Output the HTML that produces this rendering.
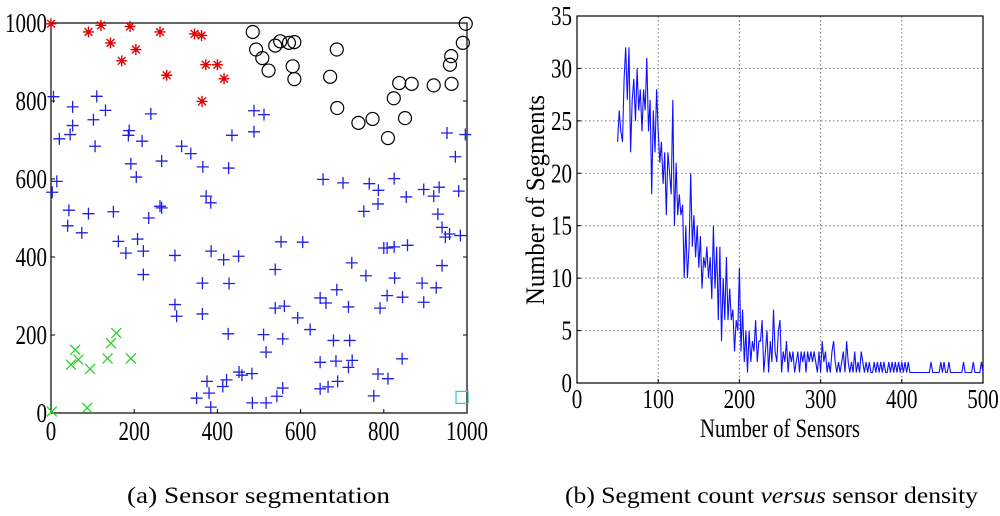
<!DOCTYPE html>
<html><head><meta charset="utf-8"><style>
html,body{margin:0;padding:0;background:#fff;}
svg{display:block;font-family:"Liberation Serif",serif;}
</style></head><body>
<svg id="s" width="1000" height="516" viewBox="0 0 1000 516">
<rect x="0" y="0" width="1000" height="516" fill="#fff"/>
<g id="left"></g>
<g id="right"></g>
<text x="127" y="503" font-size="23" textLength="263" lengthAdjust="spacingAndGlyphs">(a)  Sensor segmentation</text>
<text x="565" y="503" font-size="23" textLength="413" lengthAdjust="spacingAndGlyphs">(b)  Segment count <tspan font-style="italic">versus</tspan> sensor density</text>
</svg>
<script>
const starPts=[[90,977],[120,994],[190,991],[143,949],[170,903],[204,932],[262,977],[278,866],[345,972],[362,968],[372,893],[400,893],[416,857],[363,799],[0,998]];
const circlePts=[[485,977],[493,932],[508,910],[523,878],[539,942],[551,953],[572,949],[585,951],[581,889],[585,856],[687,932],[671,862],[688,782],[739,744],[773,754],[810,705],[824,807],[837,846],[867,844],[851,756],[920,840],[959,893],[962,915],[963,844],[990,949],[997,998]];
const crossPts=[[48,124],[58,162],[66,137],[94,113],[136,140],[144,179],[157,205],[192,140],[87,13],[2,4]];
const squarePts=[[988,40]];
const plusPts=[[6,811],[3,566],[14,594],[20,703],[46,714],[52,737],[52,785],[102,752],[110,812],[131,776],[106,684],[43,520],[40,480],[74,462],[90,511],[150,516],[162,440],[180,410],[208,446],[222,415],[222,355],[188,724],[186,712],[192,639],[205,605],[219,697],[240,767],[266,646],[262,530],[266,526],[235,500],[314,684],[336,665],[365,631],[373,556],[384,539],[427,628],[435,712],[488,775],[488,721],[512,765],[298,404],[298,278],[302,248],[364,333],[364,254],[385,415],[415,393],[451,402],[428,332],[426,203],[375,81],[350,38],[380,51],[384,15],[413,68],[422,85],[452,105],[459,97],[483,101],[484,26],[517,26],[511,201],[517,156],[543,43],[557,64],[557,190],[539,269],[561,274],[539,368],[553,439],[593,244],[623,214],[605,438],[647,295],[661,282],[647,130],[647,62],[666,67],[689,81],[685,133],[679,186],[687,316],[715,272],[718,186],[724,135],[715,117],[723,385],[757,352],[654,599],[702,590],[752,517],[765,588],[787,571],[786,536],[825,601],[854,554],[800,423],[808,423],[825,426],[857,430],[826,346],[808,301],[791,269],[845,297],[786,100],[810,88],[776,44],[844,139],[896,573],[920,556],[933,579],[930,510],[940,476],[958,459],[948,451],[984,455],[980,569],[972,657],[952,718],[996,714],[940,378],[926,321],[892,333],[896,284]];
const leftTicks=[0,200,400,600,800,1000];
const segX0=50, segStep=2;
const segValues=[23,26,24,23,29,32,27,32,22,27,29,25,30,26,28,24,28,26,31,24,27,18,26,22,28,24,
21,23,19,22,16,22,20,18,27,15,21,16,18,16,17,10,15,10,13,20,13,16,12,15,11,
14,9,12,11,13,10,12,8,15,9,13,6,13,4,10,6,12,6,9,6,7,3,6,5,11,
3,7,2,5,1,5,2,4,3,6,2,4,4,6,1,3,5,1,4,2,7,3,2,5,6,
1,3,2,4,1,3,2,3,1,2,3,1,3,2,3,1,3,2,3,2,3,2,1,3,1,
4,2,3,1,2,1,3,4,2,1,2,1,2,3,1,4,2,1,2,1,3,1,2,1,3,
2,1,2,1,2,1,1,2,1,2,1,2,1,2,1,1,2,1,2,1,2,1,2,1,2,
1,2,1,2,1,1,1,1,1,1,1,1,1,1,1,1,1,2,1,1,1,1,1,2,1,
2,1,1,2,1,1,1,1,1,1,1,1,2,1,1,1,1,1,2,1,1,1,1,2,1];
const rightXTicks=[0,100,200,300,400,500];
const rightYTicks=[0,5,10,15,20,25,30,35];

const NS='http://www.w3.org/2000/svg';
function mk(tag,attrs,parent){const e=document.createElementNS(NS,tag);for(const k in attrs)e.setAttribute(k,attrs[k]);parent.appendChild(e);return e;}
const L=document.getElementById('left'), R=document.getElementById('right');
const lx=v=>51+v*0.416, ly=v=>413-v*0.39;
const rx=v=>577+v*0.812, ry=v=>383-v*10.486;
const DW=10.5;

let fr=mk('rect',{x:51,y:23,width:416,height:390,fill:'none',stroke:'#000','stroke-width':1.2},L);


leftTicks.forEach(t=>{
  let a=mk('line',{x1:lx(t),x2:lx(t),y1:413,y2:409,stroke:'#000'},L);
  
  
  let b=mk('line',{x1:51,x2:55,y1:ly(t),y2:ly(t),stroke:'#000'},L);
  
  
  let c=mk('line',{x1:463,x2:467,y1:ly(t),y2:ly(t),stroke:'#000'},L);
  
  
  const w=String(t).length*DW;
  let tx=mk('text',{x:lx(t)-w/2,y:440,'font-size':27,textLength:w,lengthAdjust:'spacingAndGlyphs'},L);tx.textContent=t;
  
  
  let ty=mk('text',{x:47-w,y:ly(t)+9,'font-size':27,textLength:w,lengthAdjust:'spacingAndGlyphs'},L);ty.textContent=t;
  
  
});
plusPts.forEach(p=>{const x=lx(p[0]),y=ly(p[1]);
  let e=mk('path',{d:`M${x-6} ${y}H${x+6}M${x} ${y-6}V${y+6}`,stroke:'#2020e0','stroke-width':1.3,fill:'none'},L);
  
  });
starPts.forEach(p=>{const x=lx(p[0]),y=ly(p[1]);let d='';
  for(let i=0;i<4;i++){const a=i*Math.PI/4,c=Math.cos(a)*5.5,s=Math.sin(a)*5.5;d+=`M${x-c} ${y-s}L${x+c} ${y+s}`;}
  let e=mk('path',{d:d,stroke:'#e00000','stroke-width':1.4,fill:'none'},L);
  
  });
circlePts.forEach(p=>{
  let e=mk('circle',{cx:lx(p[0]),cy:ly(p[1]),r:6.5,stroke:'#000','stroke-width':1.2,fill:'none'},L);
  
  });
crossPts.forEach(p=>{const x=lx(p[0]),y=ly(p[1]);
  let e=mk('path',{d:`M${x-5} ${y-5}L${x+5} ${y+5}M${x+5} ${y-5}L${x-5} ${y+5}`,stroke:'#20d020','stroke-width':1.2,fill:'none'},L);
  
  });
squarePts.forEach(p=>{const x=lx(p[0]),y=ly(p[1]);
  let e=mk('rect',{x:x-6,y:y-6,width:12,height:12,stroke:'#20d0d0','stroke-width':1.2,fill:'none'},L);
  
  });

rightXTicks.forEach(t=>{
  if(t>0&&t<500){let g=mk('line',{x1:rx(t),x2:rx(t),y1:16,y2:383,stroke:'#777','stroke-dasharray':'1.5 2.5','stroke-width':1},R);
  
  }
  let tk=mk('line',{x1:rx(t),x2:rx(t),y1:383,y2:379,stroke:'#000'},R);
  
  
  const w=String(t).length*DW;
  let tx=mk('text',{x:rx(t)-w/2,y:408,'font-size':27,textLength:w,lengthAdjust:'spacingAndGlyphs'},R);tx.textContent=t;
  
  
});
rightYTicks.forEach(t=>{
  if(t>0&&t<35){let g=mk('line',{x1:577,x2:983,y1:ry(t),y2:ry(t),stroke:'#777','stroke-dasharray':'1.5 2.5','stroke-width':1},R);
  
  }
  let tk=mk('line',{x1:577,x2:581,y1:ry(t),y2:ry(t),stroke:'#000'},R);
  
  
  const w=String(t).length*DW;
  let ty=mk('text',{x:572-w,y:ry(t)+9,'font-size':27,textLength:w,lengthAdjust:'spacingAndGlyphs'},R);ty.textContent=t;
  
  
});
let rf=mk('rect',{x:577,y:16,width:406,height:367,fill:'none',stroke:'#000','stroke-width':1.2},R);


const pts=segValues.map((v,i)=>rx(segX0+i*segStep).toFixed(1)+','+ry(v).toFixed(1)).join(' ');
let pl=mk('polyline',{points:pts,fill:'none',stroke:'#1010ff','stroke-width':1.1},R);


let xl=mk('text',{x:700,y:437,'font-size':26,textLength:160,lengthAdjust:'spacingAndGlyphs'},R);xl.textContent='Number of Sensors';


let yl=mk('text',{x:-105,y:0,'font-size':26,textLength:210,lengthAdjust:'spacingAndGlyphs',transform:'translate(544,200) rotate(-90)'},R);yl.textContent='Number of Segments';


</script>
</body></html>
